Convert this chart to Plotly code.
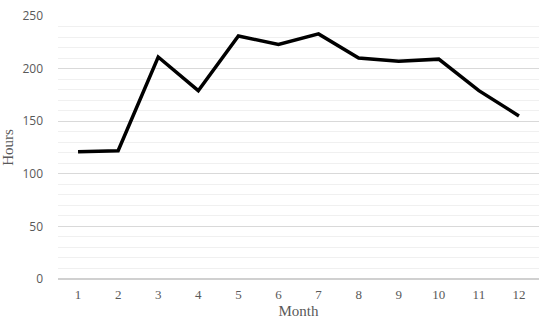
import plotly.graph_objects as go

months = [1, 2, 3, 4, 5, 6, 7, 8, 9, 10, 11, 12]
hours = [121, 122, 211, 179, 231, 223, 233, 210, 207, 209, 179, 155]

fig = go.Figure(go.Scatter(
    x=months, y=hours, mode='lines',
    line=dict(color='black', width=3.5)
))

fig.update_layout(
    width=550, height=326,
    margin=dict(l=58, r=11, t=16, b=47),
    paper_bgcolor='white', plot_bgcolor='white',
    font=dict(family='Liberation Serif', color='#595959', size=13),
    showlegend=False,
)

fig.update_xaxes(
    range=[0.5, 12.5], tickmode='array', tickvals=months,
    showgrid=False, zeroline=False, showline=False,
    ticks='', ticklabelstandoff=6, automargin=False,
    tickfont=dict(size=13),
    title=dict(text='Month', standoff=4, font=dict(size=15)),
)

fig.update_yaxes(
    range=[0, 250], tickmode='array', tickvals=[0, 50, 100, 150, 200, 250],
    showgrid=True, gridcolor='#d9d9d9', gridwidth=1,
    minor=dict(dtick=10, showgrid=True, gridcolor='#f0f0f0', gridwidth=1),
    zeroline=True, zerolinecolor='#d0d0d0', zerolinewidth=1.5,
    ticks='', ticklabelstandoff=14, automargin=False,
    tickfont=dict(family='Open Sans', size=12),
    title=dict(text='Hours', standoff=6, font=dict(size=15)),
)

# drop the default page margin so the figure sits at the window's corner
fig.write_html("out.html", config={'displayModeBar': False},
               post_script="document.body.style.margin='0';")
